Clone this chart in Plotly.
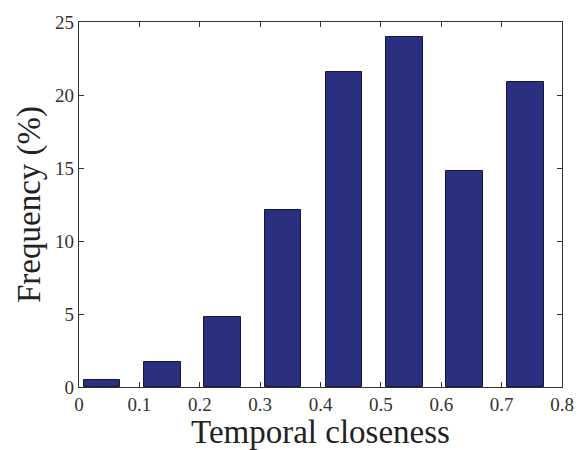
import plotly.graph_objects as go

bin_centers = [0.038, 0.138, 0.238, 0.338, 0.439, 0.539, 0.639, 0.740]
frequency = [0.5, 1.7, 4.8, 12.1, 21.6, 24.0, 14.8, 20.9]
x_ticks = [0, 0.1, 0.2, 0.3, 0.4, 0.5, 0.6, 0.7, 0.8]
x_tick_labels = ["0", "0.1", "0.2", "0.3", "0.4", "0.5", "0.6", "0.7", "0.8"]
y_ticks = [0, 5, 10, 15, 20, 25]

fig = go.Figure()
fig.add_trace(go.Bar(
    x=bin_centers, y=frequency, width=0.061,
    marker=dict(color="#2B2F80", line=dict(color="#15173f", width=1)),
))

axis_common = dict(
    showline=True, linecolor="#333333", linewidth=1.3, mirror="ticks",
    ticks="inside", ticklen=5, tickcolor="#333333", tickwidth=1,
    showgrid=False, zeroline=False,
    tickfont=dict(family="Liberation Serif", size=19, color="#333333"),
)

fig.update_layout(
    width=586, height=450,
    margin=dict(l=79, r=15, t=13, b=61),
    plot_bgcolor="white", paper_bgcolor="white",
    showlegend=False,
    bargap=0,
    xaxis=dict(
        range=[0, 0.8], tickvals=x_ticks, ticktext=x_tick_labels,
        title=dict(text="Temporal closeness", standoff=0,
                   font=dict(family="Liberation Serif", size=33, color="#222222")),
        **axis_common,
    ),
    yaxis=dict(
        range=[0, 25], tickvals=y_ticks,
        title=dict(text="Frequency (%)", standoff=4,
                   font=dict(family="Liberation Serif", size=33, color="#222222")),
        **axis_common,
    ),
)

fig.write_html("out.html")
